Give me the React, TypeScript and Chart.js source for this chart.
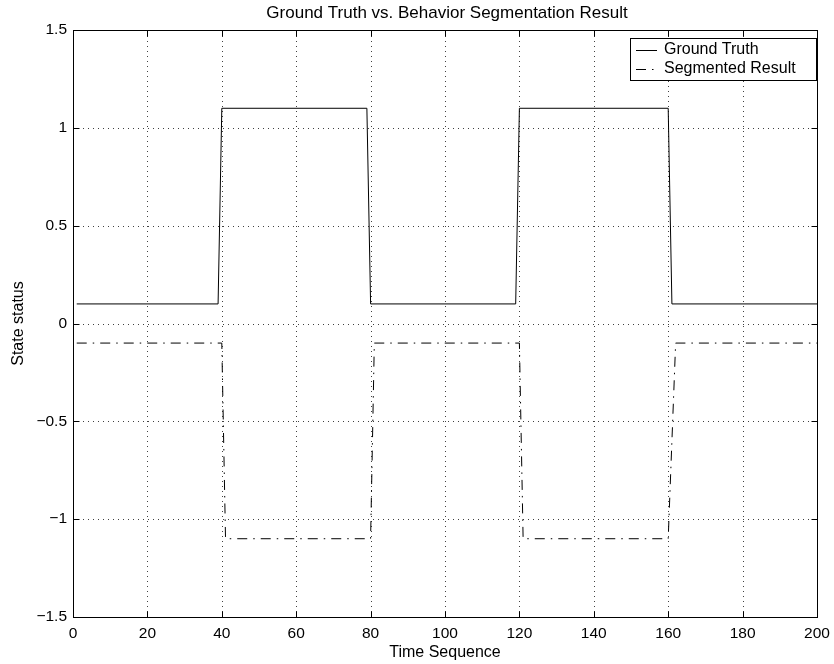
import React, { useEffect, useRef } from 'react';
import { Chart, registerables } from 'chart.js';

Chart.register(...registerables);

// ---- data ----
const truthX = [1, 39, 40, 79, 80, 119, 120, 160, 161, 200];
const truthY = [0.1, 0.1, 1.1, 1.1, 0.1, 0.1, 1.1, 1.1, 0.1, 0.1];
const segX = [1, 40, 41, 80, 81, 120, 121, 160, 162, 200];
const segY = [-0.1, -0.1, -1.1, -1.1, -0.1, -0.1, -1.1, -1.1, -0.1, -0.1];
const xTicks = [0, 20, 40, 60, 80, 100, 120, 140, 160, 180, 200];
const yTicks = [-1.5, -1, -0.5, 0, 0.5, 1, 1.5];
const seriesNames = ['Ground Truth', 'Segmented Result'];
const titleText = 'Ground Truth vs. Behavior Segmentation Result';
const xLabel = 'Time Sequence';
const yLabel = 'State status';

const FONT = "'Liberation Sans', Arial, Helvetica, sans-serif";
const SEG_DASH = [10, 6, 1.5, 6];

const fmtY = (v: number) => (v < 0 ? '\u2212' + String(Math.abs(v)) : String(v));

const framePlugin = {
  id: 'matlabFrame',
  beforeDatasetsDraw(chart: any) {
    const { ctx, chartArea: a, scales } = chart;
    ctx.save();
    ctx.strokeStyle = 'rgba(0,0,0,0.75)';
    ctx.lineWidth = 1;
    ctx.setLineDash([1, 4]);
    xTicks.forEach((v) => {
      const px = Math.round(scales.x.getPixelForValue(v)) + 0.5;
      if (px <= a.left + 1 || px >= a.right - 1) return;
      ctx.beginPath();
      ctx.moveTo(px, a.bottom);
      ctx.lineTo(px, a.top);
      ctx.stroke();
    });
    yTicks.forEach((v) => {
      const py = Math.round(scales.y.getPixelForValue(v)) + 0.5;
      if (py <= a.top + 1 || py >= a.bottom - 1) return;
      ctx.beginPath();
      ctx.moveTo(a.left, py);
      ctx.lineTo(a.right, py);
      ctx.stroke();
    });
    ctx.restore();
  },
  afterDatasetsDraw(chart: any) {
    const { ctx, chartArea: a, scales } = chart;
    ctx.save();
    ctx.setLineDash([]);
    ctx.strokeStyle = '#000';
    ctx.lineWidth = 1;
    const L = Math.round(a.left) + 0.5;
    const R = Math.round(a.right) + 0.5;
    const T = Math.round(a.top) + 0.5;
    const B = Math.round(a.bottom) + 0.5;
    ctx.strokeRect(L, T, R - L, B - T);
    const tl = 6;
    xTicks.forEach((v) => {
      const px = Math.round(scales.x.getPixelForValue(v)) + 0.5;
      ctx.beginPath();
      ctx.moveTo(px, B);
      ctx.lineTo(px, B - tl);
      ctx.moveTo(px, T);
      ctx.lineTo(px, T + tl);
      ctx.stroke();
    });
    yTicks.forEach((v) => {
      const py = Math.round(scales.y.getPixelForValue(v)) + 0.5;
      ctx.beginPath();
      ctx.moveTo(L, py);
      ctx.lineTo(L + tl, py);
      ctx.moveTo(R, py);
      ctx.lineTo(R - tl, py);
      ctx.stroke();
    });

    // legend
    const bx = 630.5, by = 38.5, bw = 816 - 630, bh = 80 - 38;
    ctx.fillStyle = '#fff';
    ctx.fillRect(bx, by, bw, bh);
    ctx.strokeRect(bx, by, bw, bh);
    ctx.font = `16px ${FONT}`;
    ctx.fillStyle = '#000';
    ctx.textBaseline = 'middle';
    ctx.textAlign = 'left';
    const rows = [50, 69];
    rows.forEach((ry, i) => {
      ctx.beginPath();
      ctx.setLineDash(i === 0 ? [] : SEG_DASH);
      ctx.moveTo(636, ry + 0.5);
      ctx.lineTo(657, ry + 0.5);
      ctx.stroke();
      ctx.setLineDash([]);
      ctx.fillText(seriesNames[i], 664, ry);
    });

    // title & axis labels
    ctx.textAlign = 'center';
    ctx.font = `17px ${FONT}`;
    ctx.fillText(titleText, (a.left + a.right) / 2 + 2, 13);
    ctx.font = `16px ${FONT}`;
    ctx.fillText(xLabel, (a.left + a.right) / 2, 653);
    ctx.save();
    ctx.translate(19, (a.top + a.bottom) / 2);
    ctx.rotate(-Math.PI / 2);
    ctx.fillText(yLabel, 0, 0);
    ctx.restore();
    ctx.restore();
  },
};

export default function App() {
  const ref = useRef<HTMLCanvasElement | null>(null);
  useEffect(() => {
    if (!ref.current) return;
    const chart = new Chart(ref.current, {
      type: 'line',
      data: {
        datasets: [
          {
            label: seriesNames[0],
            data: truthX.map((x, i) => ({ x, y: truthY[i] })),
            borderColor: '#000',
            borderWidth: 1,
            pointRadius: 0,
            tension: 0,
            fill: false,
          },
          {
            label: seriesNames[1],
            data: segX.map((x, i) => ({ x, y: segY[i] })),
            borderColor: '#000',
            borderWidth: 1,
            borderDash: SEG_DASH,
            pointRadius: 0,
            tension: 0,
            fill: false,
          },
        ],
      },
      options: {
        responsive: false,
        animation: false,
        devicePixelRatio: 1,
        layout: { padding: { left: 0, right: 17, top: 30, bottom: 0 } },
        plugins: {
          legend: { display: false },
          title: { display: false },
          tooltip: { enabled: false },
        },
        scales: {
          x: {
            type: 'linear',
            min: 0,
            max: 200,
            grid: { display: false, drawTicks: false },
            border: { display: false },
            afterBuildTicks: (s: any) => {
              s.ticks = xTicks.map((v) => ({ value: v }));
            },
            afterFit: (s: any) => {
              s.height = 47;
              s.paddingLeft = 0;
              s.paddingRight = 0;
            },
            ticks: {
              padding: 7,
              maxRotation: 0,
              autoSkip: false,
              color: '#000',
              font: { family: FONT, size: 15.5 },
              callback: (v: any) => String(v),
            },
          },
          y: {
            type: 'linear',
            min: -1.5,
            max: 1.5,
            grid: { display: false, drawTicks: false },
            border: { display: false },
            afterBuildTicks: (s: any) => {
              s.ticks = yTicks.map((v) => ({ value: v }));
            },
            afterFit: (s: any) => {
              s.width = 73;
              s.paddingTop = 0;
              s.paddingBottom = 0;
            },
            ticks: {
              padding: 6,
              autoSkip: false,
              color: '#000',
              font: { family: FONT, size: 15.5 },
              callback: (v: any) => fmtY(Number(v)),
            },
          },
        },
      },
      plugins: [framePlugin],
    });
    return () => chart.destroy();
  }, []);
  return (
    <div style={{ position: 'fixed', left: 0, top: 0, width: 834, height: 664, background: '#fff' }}>
      <canvas ref={ref} width={834} height={664} style={{ display: 'block', width: 834, height: 664 }} />
    </div>
  );
}
